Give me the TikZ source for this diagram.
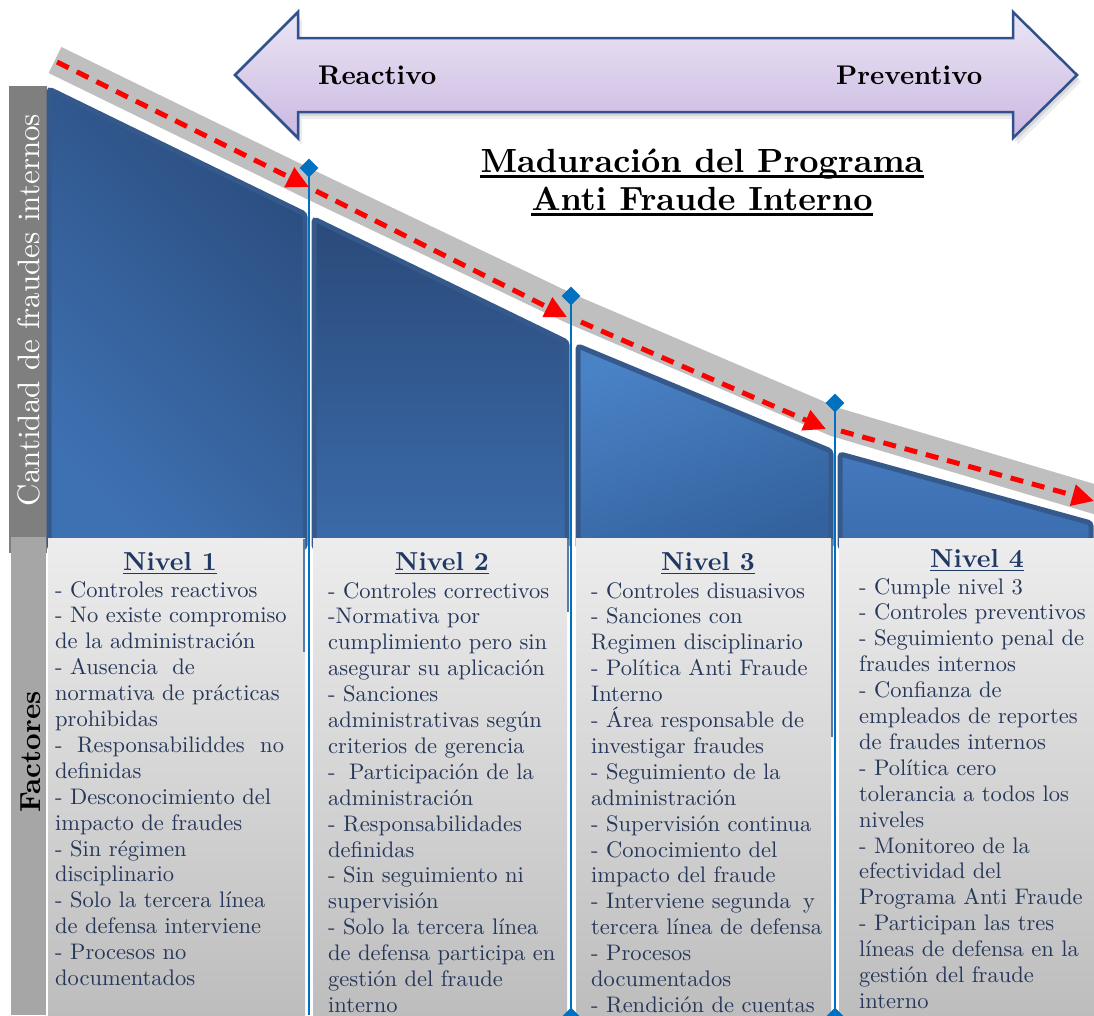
\documentclass[tikz,border=0pt]{standalone}
\usepackage{fontspec}
\setmainfont{lmroman10}[Extension=.otf, UprightFont=*-regular, BoldFont=*-bold, ItalicFont=*-italic, BoldItalicFont=*-bolditalic]
\usetikzlibrary{arrows.meta,calc,shapes.geometric}

\definecolor{bandgray}{HTML}{BFBFBF}
\definecolor{lineblue}{HTML}{0070C0}
\definecolor{txtblue}{HTML}{26375A}
\definecolor{hdrblue}{HTML}{1F3864}
\definecolor{panelborder}{HTML}{36598B}
\definecolor{boxtop}{HTML}{EDEDED}
\definecolor{boxbot}{HTML}{BDBDBD}
\definecolor{axisdark}{HTML}{7F7F7F}
\definecolor{axislight}{HTML}{A6A6A6}
\definecolor{lavtop}{HTML}{EBE5F5}
\definecolor{lavbot}{HTML}{CBB8E1}
\definecolor{arrowedge}{HTML}{2F528F}
\definecolor{ghostline}{HTML}{5A7BAA}
\definecolor{pAtop}{HTML}{2B4D7F}
\definecolor{pAbot}{HTML}{3E71B2}
\definecolor{pBtop}{HTML}{2A4A7A}
\definecolor{pBbot}{HTML}{3B6BAA}
\definecolor{pCtop}{HTML}{4A82C6}
\definecolor{pCbot}{HTML}{33629E}
\definecolor{pDtop}{HTML}{4479BD}
\definecolor{pDbot}{HTML}{3B6DAE}

\newcommand\ftbullet{\fontsize{22.5}{25.9}\selectfont}
\newcommand\fthead{\fontsize{26}{30}\selectfont\bfseries}
\newcommand\fttitle{\fontsize{33.5}{38}\selectfont\bfseries}
\newcommand\ftlabel{\fontsize{27}{30}\selectfont\bfseries}
\newcommand\ftaxis{\fontsize{31}{34}\selectfont}
\newcommand\ftfactor{\fontsize{29}{32}\selectfont\bfseries}

\tikzset{
  panel/.style={draw=panelborder, line width=5pt, rounded corners=3pt},
  textbox/.style={top color=boxtop, bottom color=boxbot, draw=none},
  marker/.style={diamond, fill=lineblue, minimum width=19pt, minimum height=19pt, inner sep=0pt},
  divider/.style={lineblue, line width=2.5pt},
  redarrow/.style={red, line width=5pt, dash pattern=on 13pt off 9pt,
    -{Triangle[length=22pt,width=21pt]}},
  bullet/.style={anchor=base west, inner sep=0pt, text=txtblue, font=\ftbullet},
  level/.style={anchor=base, inner sep=0pt, text=hdrblue, font=\fthead},
}

\begin{document}
\begin{tikzpicture}[x=1pt,y=-1pt]
\useasboundingbox (0,0) rectangle (1094,1015);
\fill[white] (0,0) rectangle (1094,1015);

% ---- double arrow: Reactivo <-> Preventivo
\foreach \dx/\dy/\op in {4/7/0.07, 2/4/0.09}{
  \fill[black, opacity=\op, shift={(\dx,\dy)}]
    (235,75) -- (298,12) -- (298,38) -- (1013,38) -- (1013,12) -- (1077,75)
    -- (1013,138) -- (1013,112) -- (298,112) -- (298,138) -- cycle;
}
\path[draw=arrowedge, line width=2.5pt, line join=miter, top color=lavtop, bottom color=lavbot]
  (235,75) -- (298,12) -- (298,38) -- (1013,38) -- (1013,12) -- (1077,75)
  -- (1013,138) -- (1013,112) -- (298,112) -- (298,138) -- cycle;
\node[anchor=base west, inner sep=0pt, font=\ftlabel] (reac) at (318,84) {Reactivo};
\node[anchor=base west, inner sep=0pt, font=\ftlabel] (prev) at (836,84) {Preventivo};

% ---- title
\node[anchor=base, inner sep=0pt, font=\fttitle] (t1) at (702,172) {Maduración del Programa};
\node[anchor=base, inner sep=0pt, font=\fttitle] (t2) at (702,210) {Anti Fraude Interno};
\draw[line width=2.2pt] ([yshift=-4.5pt]t1.base west) -- ([yshift=-4.5pt]t1.base east);
\draw[line width=2.2pt] ([yshift=-4.5pt]t2.base west) -- ([yshift=-4.5pt]t2.base east);

% ---- left axis bars
\fill[axisdark] (9,86) rectangle (47,553);
\fill[axislight] (11,537) rectangle (46,1015);
\node[rotate=90, inner sep=0pt, text=white, font=\ftaxis] (yaxis) at (29,310) {Cantidad de fraudes internos};
\node[rotate=90, inner sep=0pt, font=\ftfactor] (fact) at (31,752) {Factores};

% ---- descending gray band
\draw[bandgray, line width=29pt, line join=miter]
  (55,60) -- (309,184) -- (571,309) -- (835,422) -- (1104,502);

% ---- level panels
\path[panel, top color=pAtop, bottom color=pAbot, shading angle=-45]
  (49,89) -- (305,214) -- (305,548) -- (49,548) -- cycle;
\path[panel, top color=pBtop, bottom color=pBbot]
  (314,219) -- (567,342) -- (567,548) -- (314,548) -- cycle;
\path[panel, top color=pCtop, bottom color=pCbot, shading angle=20]
  (578,346) -- (831,451) -- (831,548) -- (578,548) -- cycle;
\path[panel, top color=pDtop, bottom color=pDbot]
  (840,454) -- (1091,523) -- (1091,548) -- (840,548) -- cycle;

% ---- factor boxes
\path[textbox] (48,538) rectangle (305,1015);
\path[textbox] (313,538) rectangle (567,1015);
\path[textbox] (576,538) rectangle (831,1015);
\path[textbox] (839,538) rectangle (1094,1015);
\draw[ghostline, line width=2pt] (304,539) -- (304,652);
\draw[ghostline, line width=2pt] (568,539) -- (568,612);
\draw[ghostline, line width=2pt] (832,539) -- (832,737);

% ---- dividers with markers
\node[marker] (m1) at (309,168) {};
\node[marker] (m2) at (571,296) {};
\node[marker] (m3) at (835,403) {};
\coordinate (b1) at (309,1015);
\node[marker] (b2) at (571,1017) {};
\node[marker] (b3) at (835,1017) {};
\draw[divider] (m1.center) -- (b1);
\draw[divider] (m2.center) -- (b2.center);
\draw[divider] (m3.center) -- (b3.center);

% ---- red trend arrows
\coordinate (r1s) at (57,62);   \coordinate (r1e) at (309,187);
\coordinate (r2s) at (316,191); \coordinate (r2e) at (567,317);
\coordinate (r3s) at (581,322); \coordinate (r3e) at (826,429);
\coordinate (r4s) at (841,431); \coordinate (r4e) at (1094,501);
\draw[redarrow] (r1s) -- (r1e);
\draw[redarrow] (r2s) -- (r2e);
\draw[redarrow] (r3s) -- (r3e);
\draw[redarrow] (r4s) -- (r4e);

% ---- level headings
\node[level] (n1) at (170,570) {Nivel 1};
\node[level] (n2) at (442,570) {Nivel 2};
\node[level] (n3) at (708,570) {Nivel 3};
\node[level] (n4) at (977,567) {Nivel 4};
\foreach \n in {n1,n2,n3,n4}
  \draw[hdrblue, line width=1.8pt] ([yshift=-3.5pt]\n.base west) -- ([yshift=-3.5pt]\n.base east);

% ---- factor lists
\foreach \t [count=\i] in {
  - Controles reactivos, - No existe compromiso, de la administración,
  - Ausencia\hspace{7pt} de, normativa de prácticas, prohibidas,
  -\hspace{7pt} Responsabiliddes\hspace{8pt} no, definidas, - Desconocimiento del,
  impacto de fraudes, - Sin régimen, disciplinario, - Solo la tercera línea,
  de defensa interviene, - Procesos no, documentados}
  \node[bullet] (ca\i) at (55,{597+25.9*(\i-1)}) {\t};

\foreach \t [count=\i] in {
  - Controles correctivos, -Normativa por, cumplimiento pero sin,
  asegurar su aplicación, - Sanciones, administrativas según,
  criterios de gerencia, -\hspace{6pt} Participación de la, administración,
  - Responsabilidades, definidas, - Sin seguimiento ni, supervisión,
  - Solo la tercera línea, de defensa participa en, gestión del fraude, interno}
  \node[bullet] (cb\i) at (328,{598+25.9*(\i-1)}) {\t};

\foreach \t [count=\i] in {
  - Controles disuasivos, - Sanciones con, Regimen disciplinario,
  - Política Anti Fraude, Interno, - Área responsable de,
  investigar fraudes, - Seguimiento de la, administración,
  - Supervisión continua, - Conocimiento del, impacto del fraude,
  - Interviene segunda\hspace{5pt} y, tercera línea de defensa, - Procesos,
  documentados, - Rendición de cuentas}
  \node[bullet] (cc\i) at (591,{598+25.9*(\i-1)}) {\t};

\foreach \t [count=\i] in {
  - Cumple nivel 3, - Controles preventivos, - Seguimiento penal de,
  fraudes internos, - Confianza de, empleados de reportes,
  de fraudes internos, - Política cero, tolerancia a todos los,
  niveles, - Monitoreo de la, efectividad del, Programa Anti Fraude,
  - Participan las tres, líneas de defensa en la, gestión del fraude, interno}
  \node[bullet] (cd\i) at (859,{594+25.9*(\i-1)}) {\t};
\end{tikzpicture}
\end{document}
